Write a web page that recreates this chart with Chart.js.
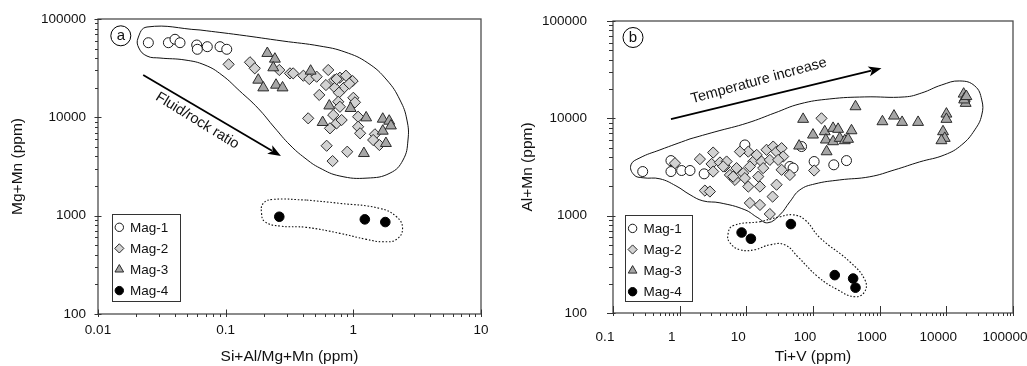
<!DOCTYPE html>
<html><head><meta charset="utf-8">
<script src="https://cdn.jsdelivr.net/npm/chart.js@4.4.0/dist/chart.umd.min.js"></script>
<style>
html,body{margin:0;padding:0;background:#fff;}
#wrap{position:relative;width:1027px;height:366px;overflow:hidden;background:#fff;}
canvas{position:absolute;top:0;}
</style></head><body>
<div id="wrap">
<canvas id="ca" width="510" height="366" style="left:0px"></canvas>
<canvas id="cb" width="512" height="366" style="left:515px"></canvas>
</div>
<script>
// ---------------- DATA ----------------
const seriesNames = ['Mag-1','Mag-2','Mag-3','Mag-4'];

// Panel (a): x = Si+Al/Mg+Mn, y = Mg+Mn
const aXTicks = [0.01, 0.1, 1, 10];
const aYTicks = [100, 1000, 10000, 100000];
const aMag1 = [[0.0248,57400],[0.0356,57400],[0.0401,62200],[0.0439,57400],[0.0593,54400],[0.0600,49200],[0.0718,52300],[0.0903,52300],[0.102,49200]];
const aMag2 = [[0.1055,34600],[0.155,36300],[0.169,31500],[0.263,30300],[0.319,28000],[0.338,28000],[0.406,26500],[0.452,24500],[0.516,25900],[0.636,30300],[0.610,21300],[0.708,23960],[0.785,25300],[0.875,26500],[0.987,23400],[0.843,20000],[0.718,20000],[0.771,17800],[0.541,16900],[1.00,15800],[1.03,14200],[0.762,14400],[0.785,12800],[0.443,9770],[0.696,10550],[0.740,8690],[0.810,9390],[0.656,7730],[1.09,10150],[1.09,8020],[1.13,6880],[1.476,6720],[1.43,5880],[1.60,5230],[0.618,5140],[0.896,4470],[0.688,3590],[0.74,24500],[0.93,22000]];
const aMag3 = [[0.212,44800],[0.243,39200],[0.236,32000],[0.180,23960],[0.197,20000],[0.248,21300],[0.279,20000],[0.463,29600],[0.648,13100],[0.952,12350],[1.26,9910],[0.575,8890],[1.70,9610],[1.91,9170],[1.97,8210],[1.70,7260],[1.80,5440],[1.21,4300]];
const aMag4 = [[0.263,975],[1.23,917],[1.78,861]];
const aEnvelope = [[0.063,77300],[0.129,68800],[0.281,59700],[0.547,53100],[0.859,46200],[1.30,35700],[1.83,23960],[2.32,15000],[2.63,9390],[2.68,5880],[2.45,3680],[1.94,2710],[1.28,2410],[0.785,2530],[0.547,3050],[0.418,3850],[0.319,5230],[0.243,7780],[0.179,12400],[0.129,18500],[0.0935,26900],[0.0689,34000],[0.048,38300],[0.0306,40100],[0.0242,42000],[0.0209,50700],[0.0206,64100],[0.0242,82900]];
const aEnvelope4 = [[0.431,1442],[0.785,1334],[1.61,1186],[2.18,975],[2.43,743],[2.18,574],[1.71,543],[1.27,574],[0.785,661],[0.431,760],[0.266,784],[0.203,867],[0.191,1055],[0.197,1334],[0.236,1465]];
const aArrow = [[0.0226,26900],[0.271,4040]];
const aArrowText = {text:'Fluid/rock ratio', at:[0.0599,9230]};

// Panel (b): x = Ti+V, y = Al+Mn
const bXTicks = [0.1, 1, 10, 100, 1000, 10000, 100000];
const bYTicks = [100, 1000, 10000, 100000];
const bMag1 = [[0.279,2840],[0.740,3680],[0.740,2840],[1.07,2910],[1.43,2910],[2.33,2690],[9.51,5330],[45.0,3200],[50.3,3080],[67.3,5130],[104,3600],[205,3330],[318,3680]];
const bMag2 = [[0.850,3460],[2.01,3810],[3.18,4450],[3.01,3400],[4.02,3520],[4.77,3200],[3.18,2840],[2.39,1810],[2.84,1770],[5.67,2620],[6.74,2330],[10.7,4550],[8.01,4550],[5.06,3600],[7.14,3080],[4.50,3200],[6.35,2520],[8.98,2730],[9.51,2430],[12.7,3600],[14.3,4210],[16.9,3600],[20.1,4750],[25.3,5130],[28.4,4550],[33.8,4940],[35.7,4050],[22.5,3740],[30.0,3740],[17.9,3080],[33.8,2960],[45.0,2620],[15.1,2520],[16.0,1990],[28.4,2080],[10.7,1990],[24.8,1570],[16.0,1290],[134,10000],[104,2910],[11.3,3200],[22.5,1040],[11.3,1350]];
const bMag3 = [[71.1,9800],[434,13200],[100,6760],[150,7310],[200,7920],[238,7740],[378,7480],[156,6010],[200,5770],[252,6250],[300,5910],[336,6110],[160,4550],[61.9,5210],[1100,9260],[1640,10590],[2170,9120],[3770,9120],[10030,11100],[10030,9800],[8920,7310],[9460,6250],[8440,5910],[18200,17800],[18900,16100],[19500,14300],[18500,15500],[20000,16800]];
const bMag4 = [[8.49,671],[11.7,579],[46.6,819],[212,245],[400,226],[434,182]];
const bEnvelope = [[1.43,6150],[3.38,7260],[10.5,8980],[26.8,11370],[63.5,14070],[179,15830],[598,16600],[2380,16600],[4280,18240],[8530,22030],[15900,24220],[26700,21530],[34000,15460],[34000,10840],[26700,7610],[17000,5340],[9460,4220],[3990,3570],[1690,2960],[711,2510],[252,2330],[107,2120],[63.5,1840],[45,1390],[31.8,1020],[21,845],[14.9,951],[9.51,1150],[4.02,1355],[2.23,1420],[1.43,1640],[0.879,2025],[0.506,2390],[0.282,2450],[0.207,2620],[0.186,3330],[0.254,3930],[0.506,4740]];
const bEnvelope4 = [[16.0,865],[31.8,973],[49.9,1020],[75.5,907],[127,593],[356,336],[598,220],[598,166],[424,147],[236,173],[118,236],[59.3,378],[37.8,502],[22.5,502],[13.4,447],[8.01,447],[5.67,527],[5.29,637],[6.29,787]];
const bArrow = [[0.740,9800],[1064,32700]];
const bArrowText = {text:'Temperature increase', at:[15.4,24300]};

// ---------------- HELPERS ----------------
const FONT = "'Liberation Sans', Arial, Helvetica, sans-serif";
const INK = '#111';

function allTicks(major){
  const out = [];
  for (let i = 0; i < major.length - 1; i++) {
    for (let m = 1; m < 10; m++) out.push(+(major[i]*m).toPrecision(6));
  }
  out.push(major[major.length-1]);
  return out;
}
function isMajor(v, major){ return major.some(t => Math.abs(t - v) <= t*1e-9); }
function pts(arr){ return arr.map(p => ({x:p[0], y:p[1]})); }
function closed(arr){ return pts(arr.concat([arr[0]])); }

const styles = [
  {pointStyle:'circle',   radius:5,   bg:'#ffffff', border:'#1a1a1a', lr:4.2},
  {pointStyle:'rectRot',  radius:5.6, bg:'#d2d2d2', border:'#2a2a2a', lr:4.6},
  {pointStyle:'triangle', radius:6.3, bg:'#a6a6a6', border:'#2a2a2a', lr:5},
  {pointStyle:'circle',   radius:4.8, bg:'#000000', border:'#000000', lr:4.2}
];

const framePlugin = {
  id: 'frame',
  afterDatasetsDraw(chart){
    const o = chart.options.plugins.frame;
    const ctx = chart.ctx, ca = chart.chartArea;
    const xs = chart.scales.x, ys = chart.scales.y;
    ctx.save();
    // frame box
    ctx.strokeStyle = '#4d4d4d'; ctx.lineWidth = 1.3;
    ctx.strokeRect(ca.left, ca.top, ca.right - ca.left, ca.bottom - ca.top);
    // ticks
    ctx.strokeStyle = '#333'; ctx.lineWidth = 1;
    ctx.beginPath();
    xs.ticks.forEach(t => {
      const px = Math.round(xs.getPixelForValue(t.value)) + 0.5;
      const maj = isMajor(t.value, o.xMajor);
      ctx.moveTo(px, ca.bottom - (maj ? o.xIn : 0));
      ctx.lineTo(px, ca.bottom + (maj ? o.xOutMaj : o.xOutMin));
    });
    ys.ticks.forEach(t => {
      const py = Math.round(ys.getPixelForValue(t.value)) + 0.5;
      const maj = isMajor(t.value, o.yMajor);
      ctx.moveTo(ca.left - (maj ? o.yOutMaj : o.yOutMin), py);
      ctx.lineTo(ca.left + (maj ? o.yIn : 0), py);
    });
    ctx.stroke();

    // arrow
    const sx = xs.getPixelForValue(o.arrow[0][0]), sy = ys.getPixelForValue(o.arrow[0][1]);
    const ex = xs.getPixelForValue(o.arrow[1][0]), ey = ys.getPixelForValue(o.arrow[1][1]);
    const ang = Math.atan2(ey - sy, ex - sx);
    const c = Math.cos(ang), s = Math.sin(ang);
    const hl = 13, hw = 5;
    ctx.strokeStyle = '#000'; ctx.fillStyle = '#000'; ctx.lineWidth = 1.8;
    ctx.beginPath(); ctx.moveTo(sx, sy); ctx.lineTo(ex - hl*0.8*c, ey - hl*0.8*s); ctx.stroke();
    ctx.beginPath();
    ctx.moveTo(ex, ey);
    ctx.lineTo(ex - hl*c + hw*s, ey - hl*s - hw*c);
    ctx.lineTo(ex - hl*0.75*c, ey - hl*0.75*s);
    ctx.lineTo(ex - hl*c - hw*s, ey - hl*s + hw*c);
    ctx.closePath(); ctx.fill();

    // arrow text
    const tx = xs.getPixelForValue(o.arrowText.at[0]), ty = ys.getPixelForValue(o.arrowText.at[1]);
    ctx.save();
    ctx.translate(tx, ty); ctx.rotate(ang + (o.textRotAdj || 0));
    ctx.font = '14.5px ' + FONT; ctx.fillStyle = INK;
    ctx.textAlign = 'center'; ctx.textBaseline = 'middle';
    ctx.fillText(o.arrowText.text, 0, 0);
    ctx.restore();

    // panel label
    const lx = ca.left + o.labelDx, ly = ca.top + o.labelDy;
    ctx.beginPath(); ctx.arc(lx, ly, 10, 0, Math.PI*2);
    ctx.strokeStyle = '#000'; ctx.lineWidth = 1; ctx.stroke();
    ctx.font = '15px ' + FONT; ctx.fillStyle = INK;
    ctx.textAlign = 'center'; ctx.textBaseline = 'middle';
    ctx.fillText(o.label, lx, ly + 0.5);

    // legend box
    const bx = ca.left + o.legLeft, bw = o.legW, bh = o.legH;
    const by = ca.bottom - o.legBottom - bh;
    ctx.fillStyle = '#fff'; ctx.fillRect(bx, by, bw, bh);
    ctx.strokeStyle = '#333'; ctx.lineWidth = 1;
    ctx.strokeRect(Math.round(bx)+0.5, Math.round(by)+0.5, Math.round(bw), Math.round(bh));
    ctx.font = '13.5px ' + FONT; ctx.textAlign = 'left'; ctx.textBaseline = 'middle';
    seriesNames.forEach((name, i) => {
      const st = styles[i];
      const ry = by + 13 + i*21.1;
      ctx.fillStyle = st.bg; ctx.strokeStyle = st.border; ctx.lineWidth = 1;
      Chart.helpers.drawPoint(ctx, {pointStyle: st.pointStyle, radius: st.lr, rotation: 0, borderWidth: 1}, bx + o.legMarkX, ry);
      ctx.fillStyle = INK;
      ctx.fillText(name, bx + o.legTextX, ry + 0.5);
    });
    ctx.restore();
  }
};

function pointDs(i, data){
  const st = styles[i];
  return {
    label: seriesNames[i], data: pts(data), showLine: false,
    pointStyle: st.pointStyle, pointRadius: st.radius, pointHoverRadius: st.radius,
    backgroundColor: st.bg, borderColor: st.border, pointBorderWidth: 1, borderWidth: 1
  };
}
function envDs(data, dashed){
  return {
    label: 'env', data: closed(data), showLine: true, pointRadius: 0, pointHoverRadius: 0,
    borderColor: '#111', borderWidth: dashed ? 1.1 : 1, borderDash: dashed ? [1.6, 1.8] : [],
    tension: 0.45, fill: false, backgroundColor: 'transparent'
  };
}

function makeChart(id, cfg){
  const xAll = allTicks(cfg.xTicks), yAll = allTicks(cfg.yTicks);
  return new Chart(document.getElementById(id), {
    type: 'scatter',
    data: { datasets: [
      pointDs(3, cfg.m4), pointDs(2, cfg.m3), pointDs(1, cfg.m2), pointDs(0, cfg.m1),
      envDs(cfg.env, false), envDs(cfg.env4, true)
    ]},
    options: {
      responsive: false, animation: false, events: [],
      layout: { padding: cfg.pad },
      plugins: { legend: {display:false}, tooltip: {enabled:false}, frame: cfg.frame },
      scales: {
        x: {
          type: 'logarithmic', min: cfg.xTicks[0], max: cfg.xTicks[cfg.xTicks.length-1],
          afterBuildTicks: s => { s.ticks = xAll.map(v => ({value: v})); },
          afterFit: s => { s.height = cfg.xH; s.paddingLeft = 0; s.paddingRight = 0; },
          grid: {display: false, drawTicks: false}, border: {display: false},
          ticks: { autoSkip: false, maxRotation: 0, minRotation: 0, padding: cfg.xPad, color: INK,
                   labelOffset: cfg.xLabelOffset || 0,
                   font: {family: FONT, size: 13.5},
                   callback: v => isMajor(v, cfg.xTicks) ? String(v) : '' },
          title: { display: true, text: cfg.xTitle, color: INK, font: {family: FONT, size: 15.5}, padding: {top:0, bottom:0} }
        },
        y: {
          type: 'logarithmic', min: cfg.yTicks[0], max: cfg.yTicks[cfg.yTicks.length-1],
          afterBuildTicks: s => { s.ticks = yAll.map(v => ({value: v})); },
          afterFit: s => { s.width = cfg.yW; s.paddingTop = 0; s.paddingBottom = 0; },
          grid: {display: false, drawTicks: false}, border: {display: false},
          ticks: { autoSkip: false, padding: cfg.yPad, color: INK,
                   font: {family: FONT, size: 13.5},
                   callback: v => isMajor(v, cfg.yTicks) ? String(v) : '' },
          title: { display: true, text: cfg.yTitle, color: INK, font: {family: FONT, size: 15.5}, padding: {top: cfg.yTitlePad, bottom:0} }
        }
      }
    },
    plugins: [framePlugin]
  });
}

makeChart('ca', {
  xTicks: aXTicks, yTicks: aYTicks, m1: aMag1, m2: aMag2, m3: aMag3, m4: aMag4,
  env: aEnvelope, env4: aEnvelope4,
  pad: {left:0, right:29, top:19, bottom:0}, xH: 52, yW: 98, xPad: 7.7, yPad: 12, yTitlePad: 8,
  xTitle: 'Si+Al/Mg+Mn (ppm)', yTitle: 'Mg+Mn (ppm)',
  frame: { xMajor: aXTicks, yMajor: aYTicks, xIn: 4.5, xOutMaj: 3, xOutMin: 3, yIn: 3.5, yOutMaj: 3.5, yOutMin: 3,
           arrow: aArrow, arrowText: aArrowText, textRotAdj: 0.02,
           label: 'a', labelDx: 22.8, labelDy: 16.8,
           legLeft: 13.7, legBottom: 12.3, legW: 67.6, legH: 87.4, legMarkX: 7.6, legTextX: 18.3 }
});

makeChart('cb', {
  xTicks: bXTicks, yTicks: bYTicks, m1: bMag1, m2: bMag2, m3: bMag3, m4: bMag4,
  env: bEnvelope, env4: bEnvelope4,
  pad: {left:0, right:14, top:21, bottom:0}, xH: 53, yW: 98, xPad: 15.9, yPad: 26, yTitlePad: 3,
  xLabelOffset: -8,
  xTitle: 'Ti+V (ppm)', yTitle: 'Al+Mn (ppm)',
  frame: { xMajor: bXTicks, yMajor: bYTicks, xIn: 7, xOutMaj: 3, xOutMin: 3, yIn: 2.5, yOutMaj: 6, yOutMin: 4,
           arrow: bArrow, arrowText: bArrowText, textRotAdj: -0.03,
           label: 'b', labelDx: 20, labelDy: 16.5,
           legLeft: 11.6, legBottom: 11.6, legW: 67.4, legH: 86, legMarkX: 8, legTextX: 19 }
});
</script>
</body></html>
